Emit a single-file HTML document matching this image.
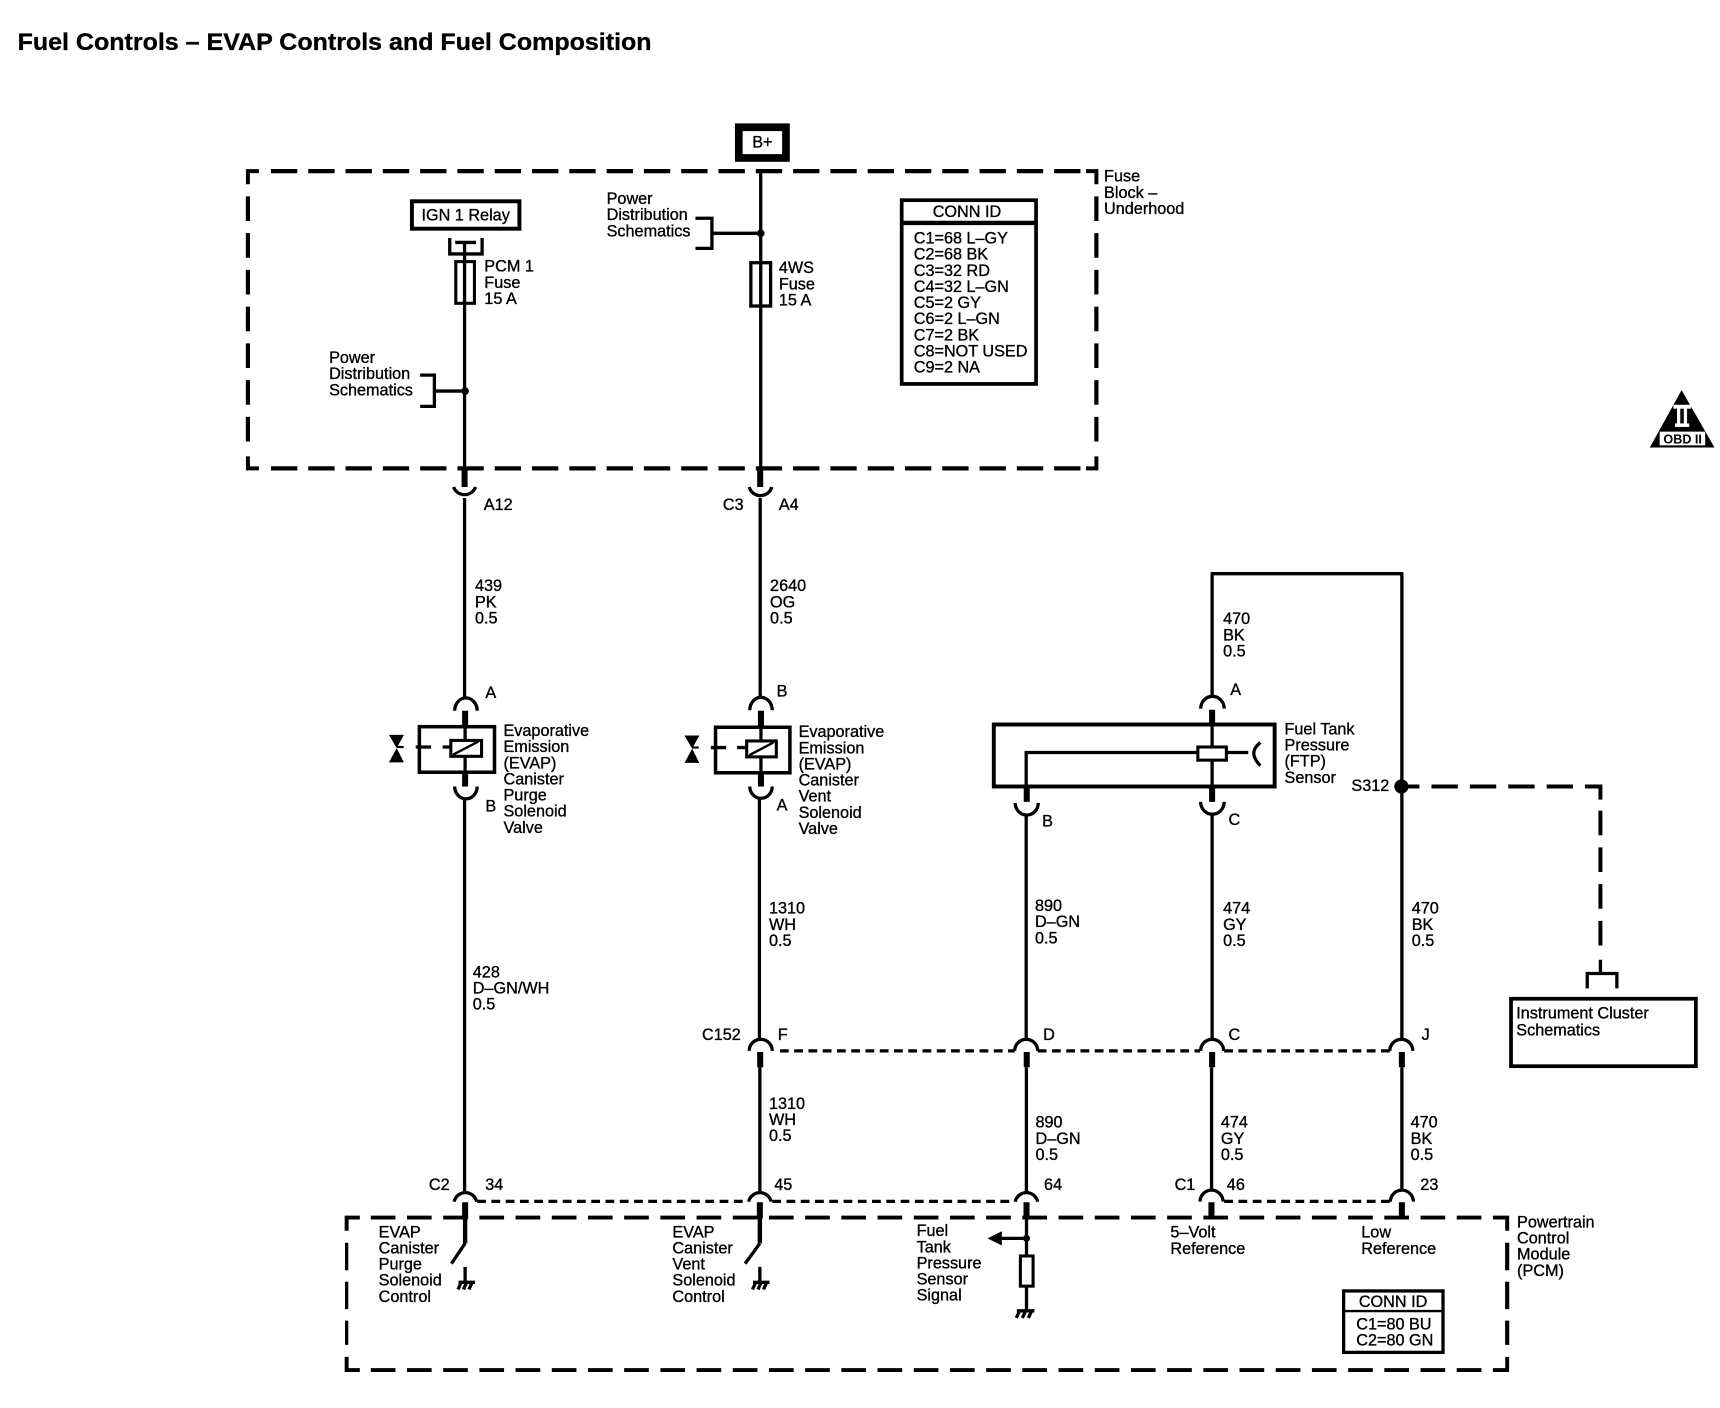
<!DOCTYPE html>
<html><head><meta charset="utf-8"><title>Fuel Controls</title>
<style>
html,body{margin:0;padding:0;background:#fff}
svg{display:block}
text{font-family:"Liberation Sans",sans-serif;font-size:14.8px;fill:#000;stroke:#000;stroke-width:.3}
.w{fill:none;stroke:#000;stroke-width:3}
.t{fill:none;stroke:#000;stroke-width:5.5}
.b{fill:none;stroke:#000;stroke-width:3.6}
.a{fill:none;stroke:#000;stroke-width:3}
.dh{fill:none;stroke:#000;stroke-width:3.8;stroke-dasharray:24 10}
.dv{fill:none;stroke:#000;stroke-width:3.8;stroke-dasharray:22.5 11}
.dot{fill:none;stroke:#000;stroke-width:3;stroke-dasharray:8 5}
</style></head><body>
<svg xmlns="http://www.w3.org/2000/svg" width="1720" height="1408" viewBox="0 0 1568 1283.6">
<rect width="1568" height="1284" fill="#fff"/>
<text x="16" y="45.6" font-weight="bold" style="font-size:22px" textLength="578" lengthAdjust="spacingAndGlyphs">Fuel Controls – EVAP Controls and Fuel Composition</text>

<!-- B+ -->
<rect x="673.5" y="116" width="43" height="28" fill="#fff" stroke="#000" stroke-width="7"/>
<text x="695" y="134.5" text-anchor="middle">B+</text>

<!-- Fuse block dashed -->
<path class="b" d="M236 156H226V168M226 416V427H236M999.5 168V156H990M999.5 416V427H990"/>
<path class="dh" d="M247 156H990M247 427H990"/>
<path class="dv" d="M226 179V406M999.5 179V406"/>
<text x="1006.5" y="165.6">Fuse</text><text x="1006.5" y="180.3">Block –</text><text x="1006.5" y="195">Underhood</text>

<!-- IGN relay -->
<rect x="375.5" y="183.5" width="98" height="25" fill="none" stroke="#000" stroke-width="3.6"/>
<text x="424.5" y="201" text-anchor="middle">IGN 1 Relay</text>
<path class="w" d="M410 217V231.5H439.5V217M415 221H434"/>
<path class="w" d="M423.5 220V428"/>
<rect x="415.5" y="238.5" width="17" height="38" fill="none" stroke="#000" stroke-width="2.8"/>
<text x="441.5" y="247.7">PCM 1</text><text x="441.5" y="262.4">Fuse</text><text x="441.5" y="277">15 A</text>
<text x="300" y="331">Power</text><text x="300" y="345.7">Distribution</text><text x="300" y="360.4">Schematics</text>
<path class="a" d="M383 342H396V370.5H383M396 356.5H424"/><circle cx="424" cy="356.5" r="3.5"/>

<!-- Wire 2 top -->
<path class="w" d="M693.5 156V428"/>
<rect x="684.5" y="239.5" width="18" height="39.5" fill="none" stroke="#000" stroke-width="3"/>
<text x="710" y="249">4WS</text><text x="710" y="263.7">Fuse</text><text x="710" y="278.4">15 A</text>
<text x="553" y="186">Power</text><text x="553" y="200.7">Distribution</text><text x="553" y="215.4">Schematics</text>
<path class="a" d="M634 199H649V226.4H634M649 212.7H693"/><circle cx="693.5" cy="212.7" r="3.5"/>

<!-- CONN ID top -->
<rect x="822" y="182.5" width="122.5" height="167.5" fill="none" stroke="#000" stroke-width="3.4"/>
<path d="M822 203.2H944" stroke="#000" stroke-width="4"/>
<text x="881.5" y="197.6" text-anchor="middle">CONN ID</text>
<text x="833" y="222">C1=68 L–GY</text><text x="833" y="236.7">C2=68 BK</text><text x="833" y="251.4">C3=32 RD</text><text x="833" y="266.1">C4=32 L–GN</text><text x="833" y="280.8">C5=2 GY</text><text x="833" y="295.5">C6=2 L–GN</text><text x="833" y="310.2">C7=2 BK</text><text x="833" y="324.9">C8=NOT USED</text><text x="833" y="339.6">C9=2 NA</text>

<!-- OBD II -->
<path d="M1533 355.6L1563 408H1504Z"/>
<rect x="1525.5" y="369" width="16" height="3.6" fill="#fff"/><rect x="1527" y="386" width="13" height="3.2" fill="#fff"/>
<rect x="1528.8" y="372" width="3" height="14.5" fill="#fff"/><rect x="1535" y="372" width="3" height="14.5" fill="#fff"/>
<rect x="1513" y="393.5" width="41.5" height="12.5" fill="#fff"/>
<text x="1534" y="404.5" text-anchor="middle" font-weight="bold" style="font-size:11.5px;stroke-width:0">OBD II</text>

<!-- Wire 1 connector & run -->
<path class="t" d="M423.5 428V444"/>
<path class="a" d="M413.5 444A10.5 10 0 0 0 433.5 444"/>
<path class="w" d="M423.5 454V636"/>
<text x="441" y="465">A12</text>
<text x="433" y="539">439</text><text x="433" y="553.7">PK</text><text x="433" y="568.4">0.5</text>
<text x="442.5" y="636.5">A</text>
<path class="a" d="M414.5 648A10 11.5 0 0 1 435 648"/>
<path class="t" d="M424 648V661M424 705V717"/>
<rect x="382.3" y="662.5" width="68.5" height="41.5" fill="none" stroke="#000" stroke-width="3.2"/>
<path class="w" d="M424 661V705"/>
<rect x="411" y="675" width="28" height="14.5" fill="#fff" stroke="#000" stroke-width="2.8"/>
<path class="w" style="stroke-width:2.2" d="M413 688L436 676"/>
<path class="w" d="M379 681H393M403.5 681H410"/>
<path d="M354.6 670H368.2L361.6 682L368.2 695H354.6L361.6 682Z"/>
<path class="w" style="stroke-width:2" d="M362 681H368"/>
<text x="459" y="671">Evaporative</text><text x="459" y="685.7">Emission</text><text x="459" y="700.4">(EVAP)</text><text x="459" y="715.1">Canister</text><text x="459" y="729.8">Purge</text><text x="459" y="744.5">Solenoid</text><text x="459" y="759.2">Valve</text>
<path class="a" d="M414.5 717A10 11 0 0 0 435 717"/>
<text x="442.5" y="740">B</text>
<path class="w" d="M423.5 728V1086"/>
<text x="431" y="891">428</text><text x="431" y="905.7">D–GN/WH</text><text x="431" y="920.4">0.5</text>

<!-- Wire 2 connector & run -->
<path class="t" d="M693 428V444"/>
<path class="a" d="M683 444A10.5 10 0 0 0 703.5 444"/>
<path class="w" d="M693 454V636"/>
<text x="659" y="465">C3</text><text x="710" y="465">A4</text>
<text x="702" y="539">2640</text><text x="702" y="553.7">OG</text><text x="702" y="568.4">0.5</text>
<text x="708" y="635">B</text>
<path class="a" d="M683.5 647.5A10 11.5 0 0 1 704 647.5"/>
<path class="t" d="M693.7 648V662M693.7 705V717"/>
<rect x="652.3" y="663" width="67.8" height="41.5" fill="none" stroke="#000" stroke-width="3.2"/>
<path class="w" d="M693.7 662V705"/>
<rect x="680.7" y="675.5" width="27" height="14.5" fill="#fff" stroke="#000" stroke-width="2.8"/>
<path class="w" style="stroke-width:2.2" d="M683 688.5L705 677"/>
<path class="w" d="M648 681.5H662M672 681.5H680"/>
<path d="M624 670.5H637.5L631 682.5L637.5 695.5H624L631 682.5Z"/>
<path class="w" style="stroke-width:2" d="M631 681.5H637"/>
<text x="728" y="672">Evaporative</text><text x="728" y="686.7">Emission</text><text x="728" y="701.4">(EVAP)</text><text x="728" y="716.1">Canister</text><text x="728" y="730.8">Vent</text><text x="728" y="745.5">Solenoid</text><text x="728" y="760.2">Valve</text>
<path class="a" d="M683.5 717A10 10.5 0 0 0 704 717"/>
<text x="708" y="739">A</text>
<path class="w" d="M692.3 727V948"/>
<text x="701" y="833">1310</text><text x="701" y="847.7">WH</text><text x="701" y="862.4">0.5</text>
<text x="640" y="948">C152</text><text x="709" y="948">F</text>
<path class="a" d="M683 958A10.5 10.5 0 0 1 704 958"/>
<path class="t" d="M693 959V973"/>
<path class="w" d="M692.7 973V1086"/>
<text x="701" y="1011">1310</text><text x="701" y="1025.7">WH</text><text x="701" y="1040.4">0.5</text>

<!-- FTP -->
<path class="w" d="M1105 523V636M1103.7 523H1279M1278 522V948"/>
<text x="1115" y="569">470</text><text x="1115" y="583.7">BK</text><text x="1115" y="598.4">0.5</text>
<text x="1121.5" y="633.7">A</text>
<path class="a" d="M1094.6 646A10.5 11 0 0 1 1116 646"/>
<path class="t" d="M1105 647V661M1105 717V731M936 717V731"/>
<rect x="906" y="660.5" width="256" height="56.5" fill="none" stroke="#000" stroke-width="3.6"/>
<path class="w" d="M1105 660V717M935.5 717V686H1092M1118 686H1138"/>
<rect x="1092" y="681" width="26" height="12" fill="#fff" stroke="#000" stroke-width="2.8"/>
<path class="a" d="M1149 677Q1137 686 1149 698"/>
<text x="1171" y="669.5">Fuel Tank</text><text x="1171" y="684.2">Pressure</text><text x="1171" y="698.9">(FTP)</text><text x="1171" y="713.6">Sensor</text>
<path class="a" d="M925.5 732A10.5 11 0 0 0 946.5 732M1094.5 731A10.5 11 0 0 0 1116 731"/>
<text x="950" y="753.7">B</text><text x="1120" y="752">C</text>
<path class="w" d="M935.5 742V948M1105 741V948"/>
<text x="943.5" y="830.6">890</text><text x="943.5" y="845.3">D–GN</text><text x="943.5" y="860">0.5</text>
<text x="1115" y="833">474</text><text x="1115" y="847.7">GY</text><text x="1115" y="862.4">0.5</text>
<text x="1287" y="833">470</text><text x="1287" y="847.7">BK</text><text x="1287" y="862.4">0.5</text>

<!-- S312 -->
<text x="1232" y="721">S312</text>
<circle cx="1277.6" cy="717" r="6.5"/>
<path class="b" d="M1284 717H1294"/>
<path class="b" style="stroke-dasharray:24 11" d="M1305 717H1447"/>
<path class="b" d="M1447 717H1459V729"/>
<path class="b" style="stroke-dasharray:22.5 11" d="M1459 739V865"/>
<path class="a" d="M1459 875V887.5M1447 901V887.5H1474V901"/>
<rect x="1377.5" y="910.5" width="168.5" height="61.5" fill="none" stroke="#000" stroke-width="3.4"/>
<text x="1382.3" y="928.5">Instrument Cluster</text><text x="1382.3" y="944">Schematics</text>

<!-- C152 row -->
<text x="951" y="948">D</text><text x="1120" y="948">C</text><text x="1296" y="948">J</text>
<path class="dot" d="M711 958H925M946 958H1094M1116 958H1267"/>
<path class="a" d="M925 958A10.5 10.5 0 0 1 946 958M1094.5 958A10.5 10.5 0 0 1 1115.5 958M1267 958A10.5 10.5 0 0 1 1288 958"/>
<path class="t" d="M936 959V973M1105 959V973M1278 959V973"/>
<path class="w" d="M935.7 973V1086M1104.5 973V1086M1278 973V1086"/>
<text x="944" y="1028">890</text><text x="944" y="1042.7">D–GN</text><text x="944" y="1057.4">0.5</text>
<text x="1113" y="1028">474</text><text x="1113" y="1042.7">GY</text><text x="1113" y="1057.4">0.5</text>
<text x="1286" y="1028">470</text><text x="1286" y="1042.7">BK</text><text x="1286" y="1057.4">0.5</text>

<!-- PCM row -->
<text x="391" y="1085">C2</text><text x="442.4" y="1085">34</text><text x="705.8" y="1085">45</text><text x="951.8" y="1085">64</text><text x="1070.8" y="1085">C1</text><text x="1118.4" y="1085">46</text><text x="1294.8" y="1085">23</text>
<path class="dot" d="M435 1095.2H682M704 1095.2H925M1116 1095.2H1267"/>
<path class="a" d="M414 1095.5A10.5 10.5 0 0 1 434.5 1095.5M682.5 1095.5A10.5 10.5 0 0 1 703 1095.5M925.5 1095.5A10.5 10.5 0 0 1 946 1095.5M1094 1095.5A10.5 10.5 0 0 1 1115 1095.5M1267.5 1095.5A10.5 10.5 0 0 1 1288.5 1095.5"/>
<path class="t" d="M424 1096V1111M692.7 1096V1111M935.8 1096V1111M1104.4 1096V1110M1278 1096V1110"/>

<!-- PCM box -->
<path class="b" d="M328 1110H316V1122M316 1237V1249H328M1362 1110H1374V1122M1374 1237V1249H1362"/>
<path class="dh" style="stroke-width:3.6;stroke-dasharray:22.5 10.5" d="M338 1110H1362M338 1249H1362"/>
<path class="dv" style="stroke-width:3;stroke-dasharray:25 10.5" d="M316 1133V1226"/>
<path class="dv" style="stroke-dasharray:25 10.5" d="M1374 1133V1226"/>
<text x="1383" y="1119">Powertrain</text><text x="1383" y="1133.7">Control</text><text x="1383" y="1148.4">Module</text><text x="1383" y="1163.1">(PCM)</text>

<!-- Switches -->
<path class="w" style="stroke-width:4" d="M424 1110V1133.5"/><path class="w" d="M424 1133.5L411.5 1152M424 1155V1168M418 1169H433M420.5 1169L417.5 1175.5M425.5 1169L422.5 1175.5M430.5 1169L427.5 1175.5"/>
<path class="w" style="stroke-width:4" d="M692.7 1110V1133.5"/><path class="w" d="M692.7 1133.5L679.3 1152M692.7 1155V1168M686.5 1169H701.5M689 1169L686 1175.5M694 1169L691 1175.5M699 1169L696 1175.5"/>
<text x="345.2" y="1128">EVAP</text><text x="345.2" y="1142.7">Canister</text><text x="345.2" y="1157.4">Purge</text><text x="345.2" y="1172.1">Solenoid</text><text x="345.2" y="1186.8">Control</text>
<text x="613" y="1128">EVAP</text><text x="613" y="1142.7">Canister</text><text x="613" y="1157.4">Vent</text><text x="613" y="1172.1">Solenoid</text><text x="613" y="1186.8">Control</text>

<!-- Fuel pressure signal -->
<path class="w" d="M935.8 1110V1144M935.8 1173V1194M913 1129H935.8M927 1195H943M929.5 1195L926.5 1201.5M935 1195L932 1201.5M940.5 1195L937.5 1201.5"/>
<circle cx="935.8" cy="1129" r="3.2"/>
<path d="M900.3 1129L913.3 1122.5V1135.5Z"/>
<rect x="930.2" y="1145" width="11.6" height="27.5" fill="#fff" stroke="#000" stroke-width="2.8"/>
<text x="835.6" y="1127">Fuel</text><text x="835.6" y="1141.7">Tank</text><text x="835.6" y="1156.4">Pressure</text><text x="835.6" y="1171.1">Sensor</text><text x="835.6" y="1185.8">Signal</text>
<text x="1067" y="1128">5–Volt</text><text x="1067" y="1143.4">Reference</text>
<text x="1241" y="1128">Low</text><text x="1241" y="1143.4">Reference</text>

<!-- CONN ID bottom -->
<rect x="1224.9" y="1176.9" width="90.6" height="56" fill="none" stroke="#000" stroke-width="3"/>
<path d="M1224 1195.2H1316" stroke="#000" stroke-width="2.2"/>
<text x="1270" y="1191.3" text-anchor="middle">CONN ID</text>
<text x="1236.4" y="1212">C1=80 BU</text><text x="1236.4" y="1226.8">C2=80 GN</text>
</svg>
</body></html>
